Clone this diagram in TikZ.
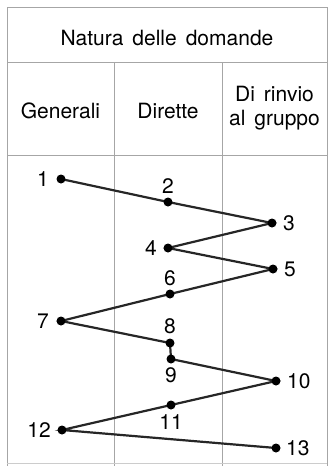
\documentclass[tikz,border=0pt]{standalone}
\usepackage{fontspec}
\setmainfont{TeX Gyre Heros}
\usetikzlibrary{positioning}
\tikzset {rule/.style={gray!70,line width=.8pt},
          link/.style={line width=2.2pt,black!85},
          num/.style={inner sep=0pt,font=\fontsize{21}{23}\selectfont},
          head/.style={inner sep=0pt,font=\fontsize{21}{23.5}\selectfont}}

\begin{document}
\begin{tikzpicture}[x=1pt,y=-1pt]
\useasboundingbox (0,0) rectangle (328,466);
% Draw table
\draw [rule] (7,466) -- (7,7) -- (327,7) -- (327,466);
\draw [rule] (7,62) -- (327,62);
\draw [rule] (7,155) -- (327,155);
\draw [rule] (114,62) -- (114,466);
\draw [rule] (222,62) -- (222,466);
\draw [rule,gray!40] (7,463) -- (327,463);

\node [head,anchor=base] (title) at (167,45) {Natura\hspace{9pt}delle\hspace{9pt}domande};
\node [head,anchor=base] (gen) at (60.5,118) {Generali};
\node [head,anchor=base] (dir) at (168,118) {Dirette};
\node [head,align=center] (rinv) at (274.5,108) {Di\hspace{9pt}rinvio\\al\hspace{9pt}gruppo};

% Questions
\coordinate (P1)  at (61,179);
\coordinate (P2)  at (168,202);
\coordinate (P3)  at (272,223);
\coordinate (P4)  at (168,248);
\coordinate (P5)  at (273,269);
\coordinate (P6)  at (170,294);
\coordinate (P7)  at (61,321);
\coordinate (P8)  at (170,343);
\coordinate (P9)  at (171,359);
\coordinate (P10) at (276,381);
\coordinate (P11) at (171,405);
\coordinate (P12) at (62,430);
\coordinate (P13) at (276,448);

\draw [link] (P1) -- (P2) -- (P3) -- (P4) -- (P5) -- (P6) -- (P7)
   -- (P8) -- (P9) -- (P10) -- (P11) -- (P12) -- (P13);

\fill (P1)  circle (4.5pt) node[num,left=12pt]  {1};
\fill (P2)  circle (4.5pt) node[num,above=8pt]  {2};
\fill (P3)  circle (4.5pt) node[num,right=11pt] {3};
\fill (P4)  circle (4.5pt) node[num,left=11pt]  {4};
\fill (P5)  circle (4.5pt) node[num,right=11pt] {5};
\fill (P6)  circle (4.5pt) node[num,above=8pt]  {6};
\fill (P7)  circle (4.5pt) node[num,left=12pt]  {7};
\fill (P8)  circle (4.5pt) node[num,above=9pt]  {8};
\fill (P9)  circle (4.5pt) node[num,below=8pt]  {9};
\fill (P10) circle (4.5pt) node[num,right=11pt] {10};
\fill (P11) circle (4.5pt) node[num,below=9pt]  {11};
\fill (P12) circle (4.5pt) node[num,left=11pt]  {12};
\fill (P13) circle (4.5pt) node[num,right=10pt] {13};
\end{tikzpicture}
\end{document}
